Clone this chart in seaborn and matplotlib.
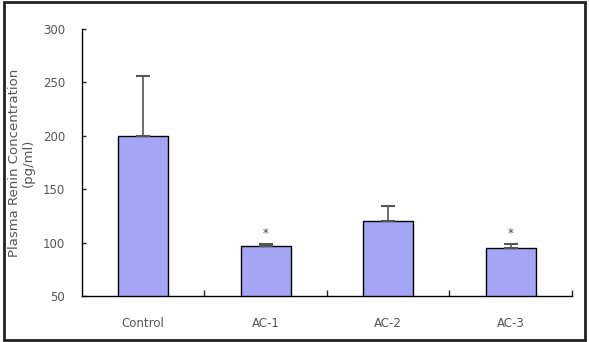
import matplotlib
matplotlib.use("Agg")
import matplotlib.pyplot as plt
from matplotlib.patches import Rectangle
import seaborn as sns
import pandas as pd

groups = ["Control", "AC-1", "AC-2", "AC-3"]
means = [200, 97, 120, 95]
errors = [56, 1.5, 14, 4]
significant = [False, True, False, True]

sns.set_style("white")
plt.rcParams["font.family"] = ["DejaVu Sans"]

df = pd.DataFrame({"group": groups, "mean": means})

fig = plt.figure(figsize=(5.89, 3.42), dpi=100)
ax = fig.add_axes([0.139, 0.134, 0.832, 0.781])

sns.barplot(data=df, x="group", y="mean", color="#a5a5f6", width=0.41,
            edgecolor="black", linewidth=1, saturation=1, ax=ax)
ax.errorbar(range(len(groups)), means, yerr=[[0] * len(errors), errors],
            fmt="none", ecolor="#555555", elinewidth=1.2, capsize=5, capthick=1.5)

for i, (m, e, s) in enumerate(zip(means, errors, significant)):
    if s:
        ax.text(i, m + e + 4, "*", ha="center", va="bottom", fontsize=8.5, color="#444444")

ax.set_ylim(50, 300)
ax.set_xlim(-0.5, 3.5)
ax.set_yticks([50, 100, 150, 200, 250, 300])
ax.set_xticks([0.5, 1.5, 2.5, 3.5], minor=True)
ax.tick_params(axis="x", which="major", length=0, pad=15, labelsize=8.5, labelcolor="#555555")
ax.tick_params(axis="x", which="minor", direction="in", length=4, width=1, bottom=True)
ax.tick_params(axis="y", direction="in", length=3, width=1, left=True, pad=12, labelsize=8.5, labelcolor="#555555")
ax.set_xlabel("")
ax.set_ylabel("Plasma Renin Concentration\n(pg/ml)", fontsize=9.5, color="#555555", labelpad=6,
              linespacing=1.1)

sns.despine(ax=ax)
for sp in ["left", "bottom"]:
    ax.spines[sp].set_color("black")
    ax.spines[sp].set_linewidth(1)

fig.patches.append(Rectangle((0.006, 0.006), 0.988, 0.988, transform=fig.transFigure,
                             fill=False, edgecolor="#222222", linewidth=2))

fig.savefig("out.png", dpi=100)
